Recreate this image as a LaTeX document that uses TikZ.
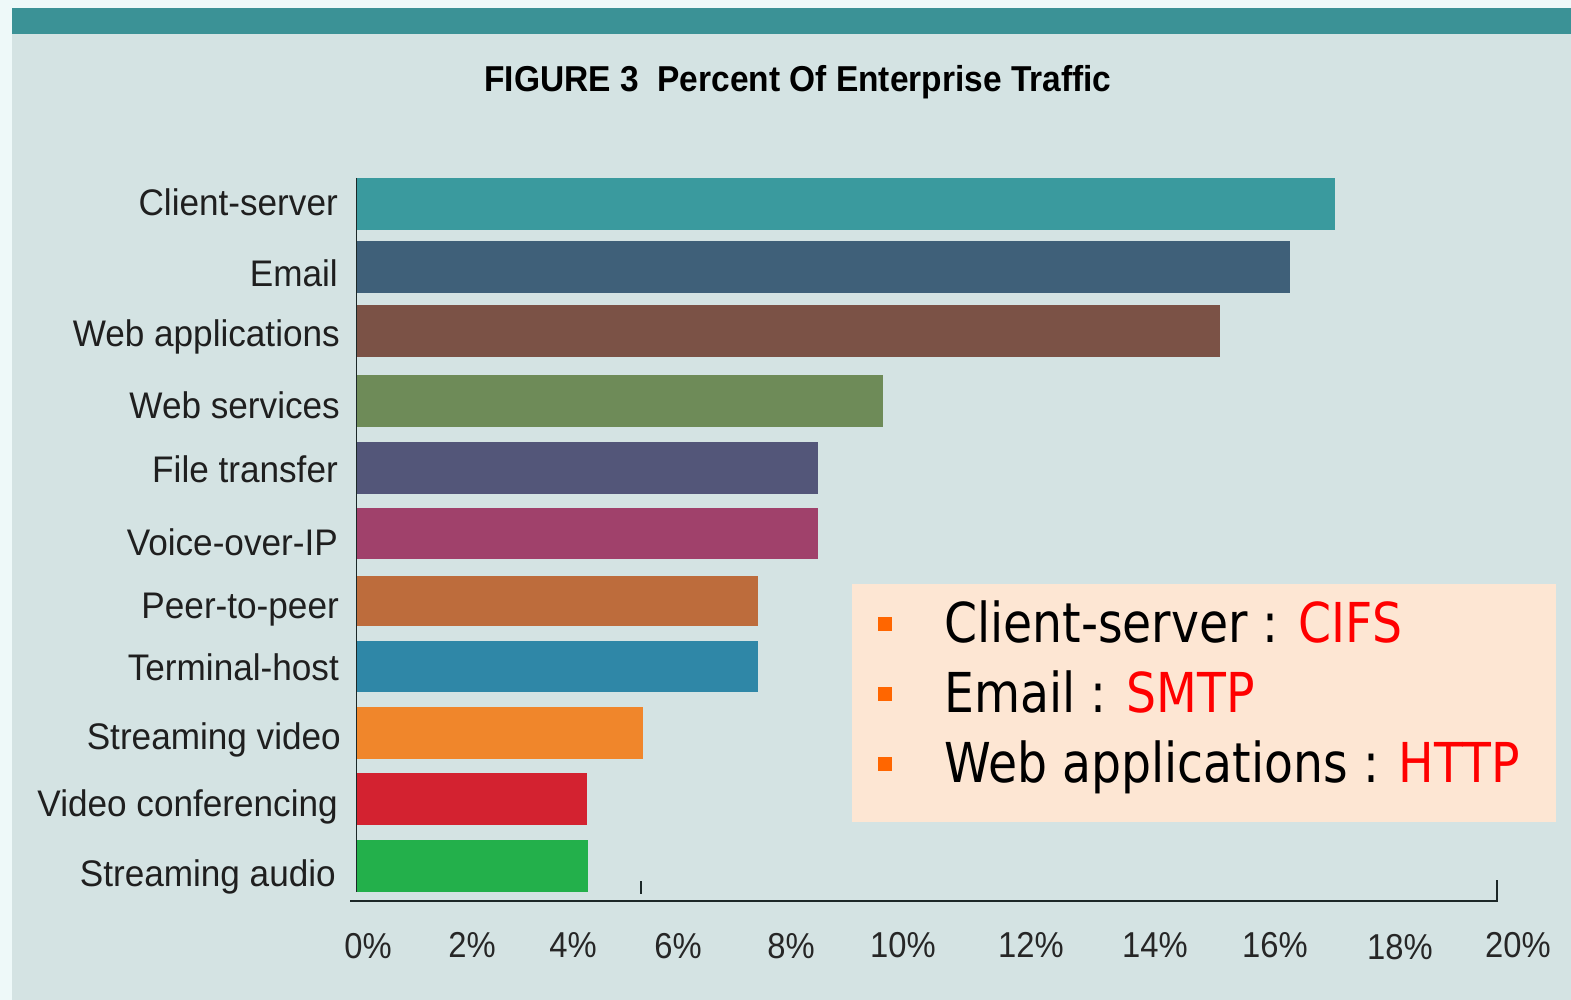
\documentclass[tikz,border=0pt]{standalone}
\usepackage{fontspec}
\setmainfont{Liberation Sans}
\newfontfamily\labfont[FakeStretch=0.95]{Liberation Sans}
\newfontfamily\tickfont[FakeStretch=0.91]{Liberation Sans}
\newfontfamily\titfont[FakeStretch=0.93]{Liberation Sans}
\newfontfamily\legfont[FakeStretch=0.86]{DejaVu Sans}
\definecolor{bgc}{HTML}{D4E3E3}
\definecolor{edgec}{HTML}{EEF9F9}
\definecolor{topbar}{HTML}{3B9296}
\definecolor{cCS}{HTML}{3A9A9E}
\definecolor{cEM}{HTML}{3F6079}
\definecolor{cWA}{HTML}{7B5246}
\definecolor{cWS}{HTML}{6E8B58}
\definecolor{cFT}{HTML}{535679}
\definecolor{cVO}{HTML}{A0416B}
\definecolor{cPP}{HTML}{BD6C3C}
\definecolor{cTH}{HTML}{2F87A7}
\definecolor{cSV}{HTML}{F0862B}
\definecolor{cVC}{HTML}{D32230}
\definecolor{cSA}{HTML}{23B04B}
\definecolor{axisc}{HTML}{1C2828}
\definecolor{legbg}{HTML}{FDE6D3}
\definecolor{bullc}{HTML}{FF6600}
\definecolor{protoc}{HTML}{FF0000}
\tikzset{
  catlabel/.style={anchor=base east, inner sep=0pt, font=\labfont\fontsize{37}{40}\selectfont, text=black!88},
  ticklabel/.style={anchor=base, inner sep=0pt, font=\tickfont\fontsize{36}{40}\selectfont, text=black!85},
  legline/.style={anchor=base west, inner sep=0pt, font=\legfont\fontsize{55}{60}\selectfont},
  bullet/.style={fill=bullc, minimum size=14pt, inner sep=0pt},
}
\begin{document}
\begin{tikzpicture}[x=1pt,y=-1pt]
\useasboundingbox (0,0) rectangle (1571,1000);
% background
\fill[edgec] (0,0) rectangle (1571,1000);
\fill[bgc] (12,8) rectangle (1571,1000);
\fill[topbar] (12,8) rectangle (1571,34);
% title
\node[inner sep=0pt, anchor=base] (title) at (798,92)
  {\titfont\bfseries\fontsize{36}{40}\selectfont FIGURE 3\ \ Percent Of Enterprise Traffic};
% bars
\fill[cCS] (357,178) rectangle (1335,230);
\fill[cEM] (357,241) rectangle (1290,293);
\fill[cWA] (357,305) rectangle (1220,357);
\fill[cWS] (357,375) rectangle (883,427);
\fill[cFT] (357,442) rectangle (818,494);
\fill[cVO] (357,508) rectangle (818,559);
\fill[cPP] (357,576) rectangle (758,626);
\fill[cTH] (357,641) rectangle (758,692);
\fill[cSV] (357,707) rectangle (643,759);
\fill[cVC] (357,773) rectangle (587,825);
\fill[cSA] (357,840) rectangle (588,892);
% vertical axis (thin)
\draw[axisc, line width=1.2pt] (356.5,178) -- (356.5,892);
% category labels
\node[catlabel] (lCS) at (338,216) {Client-server};
\node[catlabel] (lEM) at (338,287) {Email};
\node[catlabel] (lWA) at (340,346) {Web applications};
\node[catlabel] (lWS) at (340,418) {Web services};
\node[catlabel] (lFT) at (338,482) {File transfer};
\node[catlabel] (lVO) at (338,555) {Voice-over-IP};
\node[catlabel] (lPP) at (339,618) {Peer-to-peer};
\node[catlabel] (lTH) at (339,680) {Terminal-host};
\node[catlabel] (lSV) at (341,749) {Streaming video};
\node[catlabel] (lVC) at (338,816) {Video conferencing};
\node[catlabel] (lSA) at (336,886) {Streaming audio};
% x axis
\coordinate (ax0) at (350,901);
\coordinate (ax1) at (1497,901);
\coordinate (axt) at (1497,880);
\coordinate (tk0) at (641,881);
\coordinate (tk1) at (641,894);
\draw[axisc, line width=2.8pt] (ax0) -- (ax1) -- (axt);
\draw[axisc, line width=1.5pt] (tk0) -- (tk1);
% tick labels
\node[ticklabel] (t0) at (368,958) {0\%};
\node[ticklabel] (t2) at (472,957) {2\%};
\node[ticklabel] (t4) at (573,957) {4\%};
\node[ticklabel] (t6) at (678,958) {6\%};
\node[ticklabel] (t8) at (791,958) {8\%};
\node[ticklabel] (t10) at (903,957) {10\%};
\node[ticklabel] (t12) at (1031,957) {12\%};
\node[ticklabel] (t14) at (1155,957) {14\%};
\node[ticklabel] (t16) at (1275,957) {16\%};
\node[ticklabel] (t18) at (1400,959) {18\%};
\node[ticklabel] (t20) at (1518,957) {20\%};
% legend box
\fill[legbg] (852,584) rectangle (1556,822);
\node[bullet] (b1) at (884.5,623.5) {};
\node[bullet] (b2) at (884.5,693.5) {};
\node[bullet] (b3) at (884.5,763.5) {};
\node[legline] (g1) at (944,642) {Client-server : \textcolor{protoc}{CIFS}};
\node[legline] (g2) at (944,712) {Email : \textcolor{protoc}{SMTP}};
\node[legline] (g3) at (944,782) {Web applications : \textcolor{protoc}{HTTP}};
\end{tikzpicture}
\end{document}
